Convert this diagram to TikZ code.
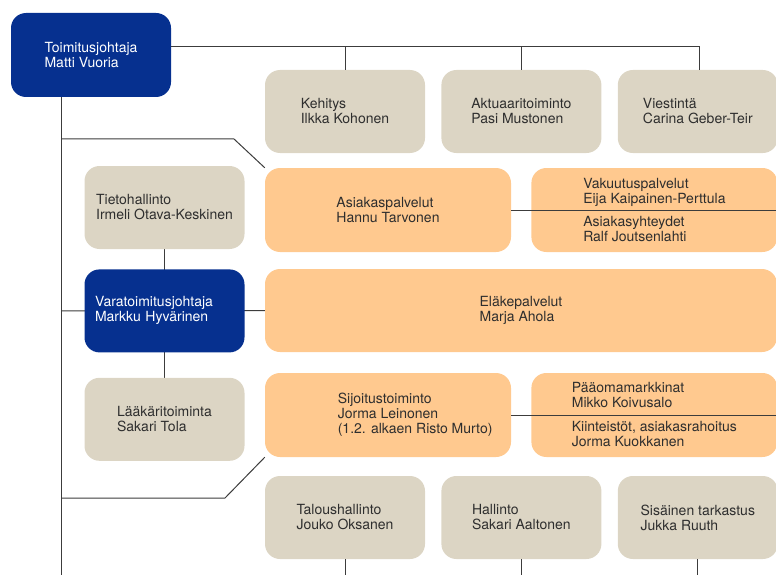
\documentclass[tikz,border=0pt]{standalone}
\usepackage{fontspec}
\setmainfont{TeX Gyre Heros}
\usepackage{tikz}
\usetikzlibrary{positioning,backgrounds}
\definecolor{orgBlue}{HTML}{06308F}
\definecolor{orgGrey}{HTML}{DCD5C4}
\definecolor{orgOrange}{HTML}{FFC98F}
\definecolor{orgText}{HTML}{2E2E2E}
\definecolor{orgLine}{HTML}{3C3C3C}
\tikzset{
  basebox/.style={rectangle,rounded corners=15pt,inner sep=0pt,align=left,
    font=\fontsize{14}{15}\selectfont,text=orgText,minimum height=83pt},
  bluebox/.style={basebox,fill=orgBlue,text=white},
  greybox/.style={basebox,fill=orgGrey,minimum width=160pt},
  orangebox/.style={basebox,fill=orgOrange,minimum width=246pt,minimum height=84pt},
  link/.style={draw=orgLine,line width=1pt}
}
\begin{document}
\begin{tikzpicture}[x=1pt,y=-1pt,node distance=16pt]
  \useasboundingbox (0,0) rectangle (776,575);
  \node[bluebox, minimum width=160pt, minimum height=84pt] (ceo) at (91,55) {Toimitusjohtaja\\Matti Vuoria};

  % staff row on top
  \node[greybox] (dev) at (345,111.5) {Kehitys\\Ilkka Kohonen};
  \node[greybox, right=of dev] (act) {Aktuaaritoiminto\\Pasi Mustonen};
  \node[greybox, right=of act] (com) {Viestintä\\Carina Geber-Teir};

  % left column
  \node[greybox] (it) at (164.5,207.5) {Tietohallinto\\Irmeli Otava-Keskinen};
  \node[bluebox, minimum width=160pt, text width=139pt, below=20pt of it] (dep) {Varatoimitusjohtaja\\Markku Hyvärinen};
  \node[greybox, below=25pt of dep] (med) {Lääkäritoiminta\\Sakari Tola};

  % business units
  \node[orangebox] (cust) at (388,210) {Asiakaspalvelut\\Hannu Tarvonen};
  \node[orangebox, right=20pt of cust] (ins) {Vakuutuspalvelut\\Eija Kaipainen-Perttula\\[8pt]Asiakasyhteydet\\Ralf Joutsenlahti};
  \node[orangebox, minimum width=512pt, minimum height=83pt] (pen) at (521,310.5) {Eläkepalvelut\\Marja Ahola};
  \node[orangebox] (inv) at (388,415) {Sijoitustoiminto\\Jorma Leinonen\\\makebox[0pt][l]{(1.2. alkaen Risto Murto)}};
  \node[orangebox, right=20pt of inv] (capm) {Pääomamarkkinat\\Mikko Koivusalo\\[9pt]Kiinteistöt, asiakasrahoitus\\Jorma Kuokkanen};

  % staff row at the bottom
  \node[greybox] (fin) at (345,517.5) {Taloushallinto\\Jouko Oksanen};
  \node[greybox, right=of fin] (adm) {Hallinto\\Sakari Aaltonen};
  \node[greybox, right=of adm] (aud) {Sisäinen tarkastus\\Jukka Ruuth};

  \coordinate (spine) at (61,575);
  \coordinate (topline) at (699,47);
  \coordinate (bend1) at (234,139);
  \coordinate (bend2) at (225,498);

  \draw[link] (ceo.south -| spine) -- (spine);
  \draw[link] (ceo.east |- topline) -- (topline) -- (topline |- com.north);
  \draw[link] (dev.north |- topline) -- (dev.north);
  \draw[link] (act.north |- topline) -- (act.north);
  \draw[link] (cust.east) -- (ins.east);
  \draw[link] (inv.east) -- (capm.east);
  \draw[link] (fin.south) -- (fin.south |- spine);
  \draw[link] (adm.south) -- (adm.south |- spine);
  \draw[link] (aud.south) -- (aud.south |- spine);

  \begin{scope}[on background layer]
    \draw[link] (spine |- bend1) -- (bend1) -- (cust.north west);
    \draw[link] (spine |- bend2) -- (bend2) -- (inv.south west);
    \draw[link] (it) -- (med);
    \draw[link] (spine |- dep) -- (pen);
  \end{scope}
\end{tikzpicture}
\end{document}
